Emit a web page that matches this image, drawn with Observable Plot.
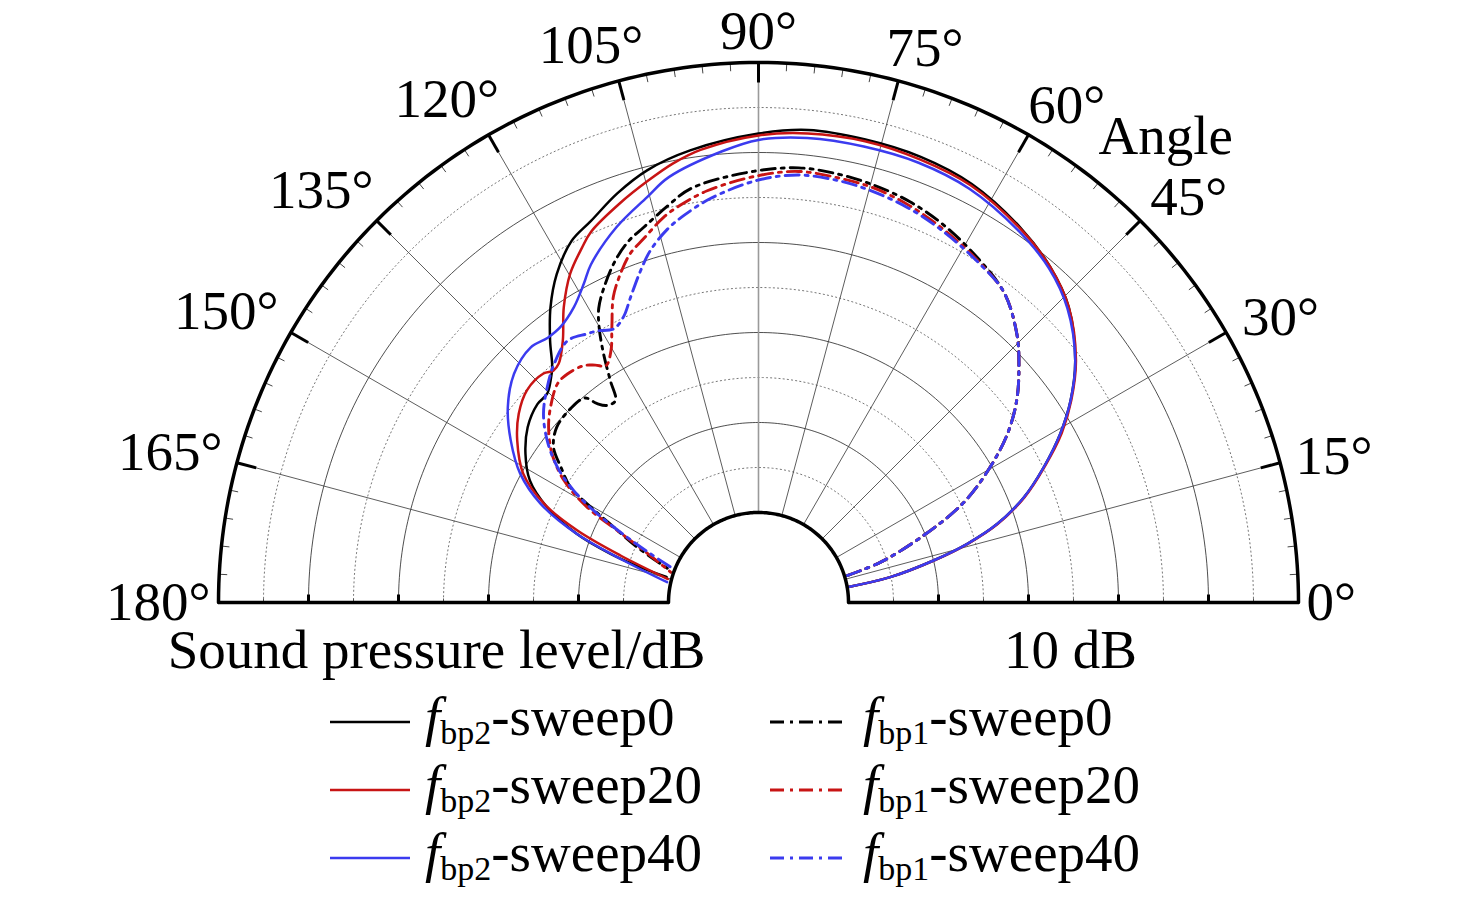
<!DOCTYPE html>
<html>
<head>
<meta charset="utf-8">
<script src="https://cdn.jsdelivr.net/npm/d3@7"></script>
<script src="https://cdn.jsdelivr.net/npm/@observablehq/plot@0.6"></script>
<style>
  body { margin: 0; background: #fff; }
  #wrap { position: relative; width: 1476px; height: 899px; font-family: "Liberation Serif", "Times New Roman", serif; }
  #legend { position: absolute; left: 0; top: 0; width: 1476px; font-size: 55px; color: #000; }
  .row { position: absolute; height: 68px; line-height: 68px; white-space: nowrap; }
  .row svg { vertical-align: middle; margin-right: 15px; }
  .row i { font-style: italic; }
  .row sub { font-size: 34px; vertical-align: -9px; line-height: 0; }
</style>
</head>
<body>
<div id="wrap"><div id="chart"></div><div id="legend"></div></div>
<script>
// ---------------- data (angle in degrees, relative sound pressure level in dB) ----------------
const bp2Sweep0Angle = [9.8, 10.9, 13.5, 15.7, 18.2, 21.6, 25.4, 29.2, 32.9, 37.4, 43.6, 49, 55, 63, 70, 77, 84, 90, 98.6, 104.4, 109, 113.7, 117.4, 121.6, 125.2, 128.5, 131.2, 133.1, 135.4, 138.1, 142.8, 147.5, 151.9, 155.7, 159.3, 161.8, 163.6, 164.5];
const bp2Sweep0SPL   = [0, 4.9, 10, 14.1, 17.9, 21.7, 25.1, 28.4, 31.3, 34.3, 37.6, 39.4, 40.8, 42.2, 42.7, 42.8, 42.8, 42.1, 40.8, 39.6, 38.1, 36.3, 35.2, 32.8, 30.1, 27.2, 24.8, 23.8, 23, 23, 22.2, 20.7, 18.8, 15.8, 11.6, 7.3, 3.3, 0.6];

const bp2Sweep20Angle = [9.8, 10.9, 13.5, 15.7, 18.2, 21.6, 25.4, 29.2, 32.9, 37.4, 43.6, 49, 55, 63, 70, 77, 84, 90, 97.3, 101, 104.8, 109, 114.3, 116.5, 119.8, 123.4, 126.8, 129.9, 131.5, 133.2, 137.5, 141.8, 146.1, 151.3, 155.3, 158.3, 161.2, 165.5];
const bp2Sweep20SPL   = [0, 4.9, 10.1, 14.2, 18, 21.8, 25.2, 28.6, 31.4, 34.4, 37.6, 39.4, 40.7, 42, 42.4, 42.6, 42.4, 41.9, 40.7, 39.7, 38.4, 37, 35.2, 34, 32.1, 29.3, 26.3, 24.6, 24.4, 24.9, 24.9, 23.9, 22.3, 19.8, 16.2, 11.7, 6.2, 0.4];

const bp2Sweep40Angle = [9.8, 10.9, 13.5, 15.7, 18.2, 21.6, 25.4, 29.2, 32.9, 37.4, 43.6, 49, 55, 63, 70, 77, 84, 90, 94.6, 101.9, 105.4, 110.7, 116.4, 118.7, 122, 125.7, 128.5, 131.8, 136.9, 142.1, 146.8, 151.6, 155.6, 159.3, 162.7, 167.5];
const bp2Sweep40SPL   = [0, 4.9, 10, 14.1, 17.9, 21.7, 25.1, 28.4, 31.3, 34.3, 37.4, 39.2, 40.4, 41.6, 42, 42, 41.9, 41.4, 40.3, 38.3, 36.7, 34.6, 31.9, 30.4, 28.7, 27.7, 27.6, 28, 27.2, 25.3, 22.9, 20.1, 16.6, 11.6, 5.7, 0.4];

const bp1Sweep0Angle = [16.9, 18.3, 22.1, 26, 30.3, 34.1, 38, 42.1, 46.1, 51.5, 57.2, 63.8, 69.3, 74.4, 79.2, 84.7, 91.5, 99.3, 102.9, 107, 109.7, 112.7, 116.1, 118.5, 120.1, 121.9, 123.7, 125.3, 127.5, 129.1, 130.3, 134.1, 139, 142.8, 145.6, 148.5, 150.4, 152.5, 155.5, 160];
const bp1Sweep0SPL   = [0.3, 4.3, 9.8, 15.4, 19.8, 23.4, 26.4, 29, 31.4, 33.9, 35.3, 36.7, 37.6, 38.1, 38.4, 38.5, 37.8, 36.6, 35.2, 33.6, 32.7, 31.2, 29, 27.2, 25.3, 22.6, 19.7, 17.5, 17.6, 18.5, 19.8, 20, 19.7, 18.6, 16.6, 14.5, 11.4, 8.1, 4.8, 0.4];

const bp1Sweep20Angle = [16.9, 18.3, 22.1, 26, 30.3, 34.1, 38, 42.1, 46.1, 51.5, 57.2, 63.8, 69.3, 74.4, 79.2, 84.7, 90.2, 97.1, 101.1, 103.8, 107.5, 110.2, 112.8, 115.4, 118, 120.4, 122.8, 124.5, 126.4, 129.9, 132.6, 136.8, 140.1, 144.2, 147.9, 150.9, 153, 155.6, 161];
const bp1Sweep20SPL   = [0.3, 4.3, 9.8, 15.4, 19.8, 23.4, 26.4, 29, 31.4, 33.9, 35.1, 36.3, 37.2, 37.8, 38, 38.1, 37.4, 36.1, 35, 34.1, 32.4, 31.3, 29.6, 27.6, 24.7, 22.4, 21.3, 22, 22.7, 23.1, 23, 21.7, 20.4, 18.3, 15.5, 11.8, 7.6, 4, 0.3];

const bp1Sweep40Angle = [16.9, 18.3, 22.1, 26, 30.3, 34.1, 38, 42.1, 46.1, 51.8, 57.2, 63.8, 69.3, 74.4, 79.2, 84.7, 90.2, 96.8, 100.9, 103.7, 107.1, 109.6, 112.7, 115.3, 117.9, 120.7, 122.5, 126.1, 130.6, 134.5, 138.7, 142.5, 146.1, 148.8, 151.2, 153.6, 155.7, 158.1];
const bp1Sweep40SPL   = [0.3, 4.3, 9.8, 15.4, 19.8, 23.4, 26.4, 29, 31.4, 34, 35, 36.1, 36.9, 37.4, 37.7, 37.7, 36.9, 35.2, 33.8, 32.7, 30.9, 29.1, 26.8, 25.1, 24.4, 25.1, 25.4, 26, 24.9, 23.5, 21.8, 19.6, 16.9, 14, 10.4, 6.3, 3.2, 0.5];

const angleTicks = [0, 15, 30, 45, 60, 75, 90, 105, 120, 135, 150, 165, 180];
const ringSolid  = [10, 20, 30, 40];        // dB
const ringDotted = [5, 15, 25, 35, 45];     // dB
const splMax = 50;                           // dB at the outer ring
const hole = 10;                             // inner hole radius, in dB units
const seriesNames = ["fbp2-sweep0", "fbp2-sweep20", "fbp2-sweep40", "fbp1-sweep0", "fbp1-sweep20", "fbp1-sweep40"];

// ---------------- styles ----------------
const RED = "#c81414", BLUE = "#3b3bef", BLACK = "#000";
const DASHDOT = "14,6,3,6";
const seriesStyle = [
  {angle: bp2Sweep0Angle,  spl: bp2Sweep0SPL,  color: BLACK, dash: null, sub: "bp2", name: "sweep0"},
  {angle: bp2Sweep20Angle, spl: bp2Sweep20SPL, color: RED,   dash: null, sub: "bp2", name: "sweep20"},
  {angle: bp2Sweep40Angle, spl: bp2Sweep40SPL, color: BLUE,  dash: null, sub: "bp2", name: "sweep40"},
  {angle: bp1Sweep0Angle,  spl: bp1Sweep0SPL,  color: BLACK, dash: DASHDOT, sub: "bp1", name: "sweep0"},
  {angle: bp1Sweep20Angle, spl: bp1Sweep20SPL, color: RED,   dash: DASHDOT, sub: "bp1", name: "sweep20"},
  {angle: bp1Sweep40Angle, spl: bp1Sweep40SPL, color: BLUE,  dash: DASHDOT, sub: "bp1", name: "sweep40"}
];

// ---------------- polar helpers ----------------
const R = hole + splMax;                 // outer radius in scale units
const rad = a => a * Math.PI / 180;
const rho = v => hole + v;
const px = (R * 2) / (1298 - 218);       // scale units per pixel (x range width)
const PX = 1 / px;                       // pixels per unit
const X = (v, a) => rho(v) * Math.cos(rad(a));
const Y = (v, a) => rho(v) * Math.sin(rad(a));

const arcAngles = d3.range(0, 180.01, 1);
const ringRows = vals => vals.flatMap(v => arcAngles.map(a => ({v, a})));

const FONT = "Liberation Serif";
const FS = 55;

function labelXY(a) {
  const t = rad(a);
  const w = (String(a).length * 0.5 + 0.4) * FS;
  const h = 46;
  const r = (R * PX + 8) + Math.abs(Math.cos(t)) * w / 2 + Math.abs(Math.sin(t)) * h / 2;
  let x = r * Math.cos(t), y = r * Math.sin(t);
  if (a % 90 !== 0) {
    x += 17 * Math.sin(t) * Math.sign(Math.cos(t));
    y -= 13 * Math.abs(Math.sin(2 * t));
  }
  return [x * px, y * px];
}

const marks = [];
// dotted rings
marks.push(Plot.line(ringRows(ringDotted), {x: d => X(d.v, d.a), y: d => Y(d.v, d.a), z: "v", stroke: "#777", strokeWidth: 1, strokeDasharray: "1.2,3"}));
// solid rings
marks.push(Plot.line(ringRows(ringSolid), {x: d => X(d.v, d.a), y: d => Y(d.v, d.a), z: "v", stroke: "#222", strokeWidth: 0.8}));
// spokes
const spokes = angleTicks.filter(a => a > 0 && a < 180);
marks.push(Plot.link(spokes.filter(a => a !== 90), {x1: a => X(0, a), y1: a => Y(0, a), x2: a => X(splMax, a), y2: a => Y(splMax, a), stroke: "#333", strokeWidth: 0.8}));
marks.push(Plot.link([90], {x1: a => X(0, a), y1: a => Y(0, a), x2: a => X(splMax, a), y2: a => Y(splMax, a), stroke: "#9a9a9a", strokeWidth: 1.6}));
// outer ticks
const minorTicks = d3.range(0, 181, 3).filter(a => a % 15 !== 0);
marks.push(Plot.link(minorTicks, {x1: a => X(splMax, a), y1: a => Y(splMax, a), x2: a => X(splMax - 8 * px, a), y2: a => Y(splMax - 8 * px, a), stroke: "#444", strokeWidth: 1}));
marks.push(Plot.link(angleTicks, {x1: a => X(splMax, a), y1: a => Y(splMax, a), x2: a => X(splMax - 20 * px, a), y2: a => Y(splMax - 20 * px, a), stroke: "#000", strokeWidth: 3}));
// baseline ticks
const bMajor = ringSolid.flatMap(v => [rho(v), -rho(v)]);
const bMinor = ringDotted.flatMap(v => [rho(v), -rho(v)]);
marks.push(Plot.link(bMajor, {x1: d => d, x2: d => d, y1: 0, y2: 8 * px, stroke: "#000", strokeWidth: 3}));
marks.push(Plot.link(bMinor, {x1: d => d, x2: d => d, y1: 0, y2: 4 * px, stroke: "#555", strokeWidth: 1}));

// data curves
seriesStyle.forEach((s, i) => {
  const rows = s.angle.map((a, j) => ({series: seriesNames[i], angle: a, spl: s.spl[j]}));
  marks.push(Plot.line(rows, {
    x: d => X(d.spl, d.angle), y: d => Y(d.spl, d.angle),
    stroke: s.color, strokeWidth: s.dash ? 2.9 : 2.5,
    strokeDasharray: s.dash || undefined, curve: "catmull-rom"
  }));
});

// frame: inner arc, outer arc, baseline
marks.push(Plot.line(ringRows([0]), {x: d => X(d.v, d.a), y: d => Y(d.v, d.a), stroke: "#000", strokeWidth: 3.5}));
marks.push(Plot.line(ringRows([splMax]), {x: d => X(d.v, d.a), y: d => Y(d.v, d.a), stroke: "#000", strokeWidth: 3.5}));
marks.push(Plot.link([[-R, -hole], [hole, R]], {x1: d => d[0], x2: d => d[1], y1: 0, y2: 0, stroke: "#000", strokeWidth: 3.5}));

// angle labels
marks.push(Plot.text(angleTicks, {x: a => labelXY(a)[0], y: a => labelXY(a)[1], text: a => `${a}°`, fontSize: FS, fontFamily: FONT, textAnchor: "middle", lineAnchor: "middle", fill: "#000"}));
// axis titles
marks.push(Plot.text(["Angle"], {x: X(splMax, 60), y: Y(splMax, 60), text: d => d, fontSize: FS, fontFamily: FONT, textAnchor: "start", lineAnchor: "middle", dx: 70, dy: 2, fill: "#000"}));
marks.push(Plot.text(["Sound pressure level/dB"], {x: -(hole + splMax / 2), y: 0, text: d => d, fontSize: FS, fontFamily: FONT, textAnchor: "middle", lineAnchor: "middle", dx: -7, dy: 48, fill: "#000"}));
marks.push(Plot.text(["10 dB"], {x: hole + splMax / 2, y: 0, text: d => d, fontSize: FS, fontFamily: FONT, textAnchor: "middle", lineAnchor: "middle", dx: -3, dy: 48, fill: "#000"}));

const chart = Plot.plot({
  width: 1476,
  height: 690,
  x: {domain: [-R, R], range: [218, 1298], axis: null},
  y: {domain: [0, R], range: [602, 62], axis: null},
  style: {background: "#fff", fontFamily: FONT, overflow: "visible"},
  marks
});
document.getElementById("chart").appendChild(chart);

// ---------------- legend ----------------
const legend = d3.select("#legend");
seriesStyle.forEach((s, i) => {
  const col = i < 3 ? 0 : 1;
  const rowIdx = i % 3;
  const row = legend.append("div").attr("class", "row")
    .style("left", col === 0 ? "330px" : "770px")
    .style("top", (683 + rowIdx * 68) + "px");
  const w = col === 0 ? 80 : 78;
  const svg = row.append("svg").attr("width", w).attr("height", 8);
  svg.append("line").attr("x1", 0).attr("x2", w).attr("y1", 4).attr("y2", 4)
    .attr("stroke", s.color).attr("stroke-width", s.dash ? 3 : 2.4)
    .attr("stroke-dasharray", s.dash || null);
  row.append("span").html(`<i>f</i><sub>${s.sub}</sub>-${s.name}`);
});
</script>
</body>
</html>
